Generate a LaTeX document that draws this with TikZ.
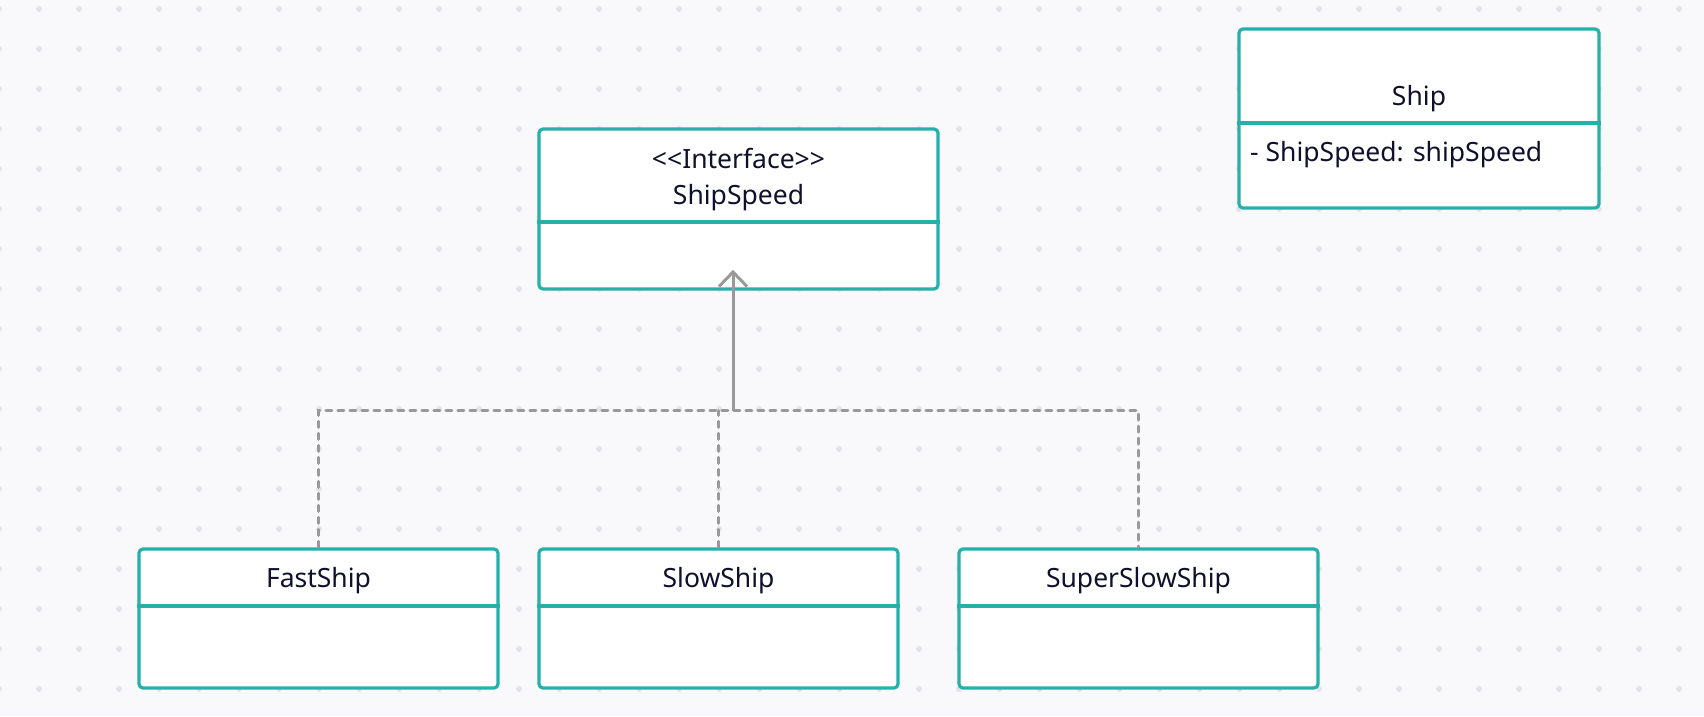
\documentclass[tikz,border=0pt]{standalone}
\usepackage{fontspec}
\setmainfont{Noto Sans}
\definecolor{bgcol}{RGB}{249,249,251}
\definecolor{dotcol}{RGB}{228,228,232}
\definecolor{teal}{RGB}{38,176,170}
\definecolor{txtcol}{RGB}{16,16,44}
\definecolor{linecol}{RGB}{153,153,153}
\tikzset{
  umlbox/.style={draw=teal, line width=3.2pt, fill=white, rounded corners=4pt, inner sep=0pt},
  divider/.style={draw=teal, line width=3.2pt},
  umltext/.style={font=\fontsize{26.5}{31}\selectfont, text=txtcol, inner sep=0pt, anchor=base},
  depline/.style={draw=linecol, line width=3pt, dash pattern=on 6pt off 6pt, line cap=round},
  realline/.style={draw=linecol, line width=3pt, line join=miter},
}
\begin{document}
\begin{tikzpicture}[x=1pt,y=-1pt]
\useasboundingbox (0,0) rectangle (1704,716);
\fill[bgcol] (0,0) rectangle (1704,716);
% dot grid
\foreach \i in {-1,...,41}{
  \foreach \j in {0,...,17}{
    \fill[dotcol] (39+40*\i, 9+40*\j) circle (3pt);
  }
}
% boxes
\node[umlbox, minimum width=360pt, minimum height=179pt] (ship) at (1419,118.5) {};
\node[umlbox, minimum width=399pt, minimum height=160pt] (speed) at (738.5,209) {};
\node[umlbox, minimum width=359pt, minimum height=139pt] (fast) at (318.5,618.5) {};
\node[umlbox, minimum width=359pt, minimum height=139pt] (slow) at (718.5,618.5) {};
\node[umlbox, minimum width=359pt, minimum height=139pt] (superslow) at (1138.5,618.5) {};
% dividers
\draw[divider] (ship.west |- 0,123) -- (ship.east |- 0,123);
\draw[divider] (speed.west |- 0,222) -- (speed.east |- 0,222);
\draw[divider] (fast.west |- 0,606) -- (fast.east |- 0,606);
\draw[divider] (slow.west |- 0,606) -- (slow.east |- 0,606);
\draw[divider] (superslow.west |- 0,606) -- (superslow.east |- 0,606);
% texts
\node[umltext] (shipname) at (1419,105) {Ship};
\node[umltext, anchor=base west] (shipattr) at (1250,161.7) {- ShipSpeed: shipSpeed};
\node[umltext] (stereo) at (738.5,168.3) {<{}<Interface>{}>};
\node[umltext] (speedname) at (738.5,204.3) {ShipSpeed};
\node[umltext] (fastname) at (318.5,587.5) {FastShip};
\node[umltext] (slowname) at (718.5,587.5) {SlowShip};
\node[umltext] (superslowname) at (1138.5,587.5) {SuperSlowShip};
% connectors
\coordinate (bus) at (0,410.7);
\coordinate (tip) at (733,272);
\draw[depline] (fast.north) -- (fast.north |- bus) -- (superslow.north |- bus) -- (superslow.north);
\draw[depline] (slow.north) -- (slow.north |- bus);
\draw[realline] (tip |- bus) -- (tip);
\draw[realline] (tip) ++(-14,14.5) -- (tip) -- ++(14,14.5);
\end{tikzpicture}
\end{document}
